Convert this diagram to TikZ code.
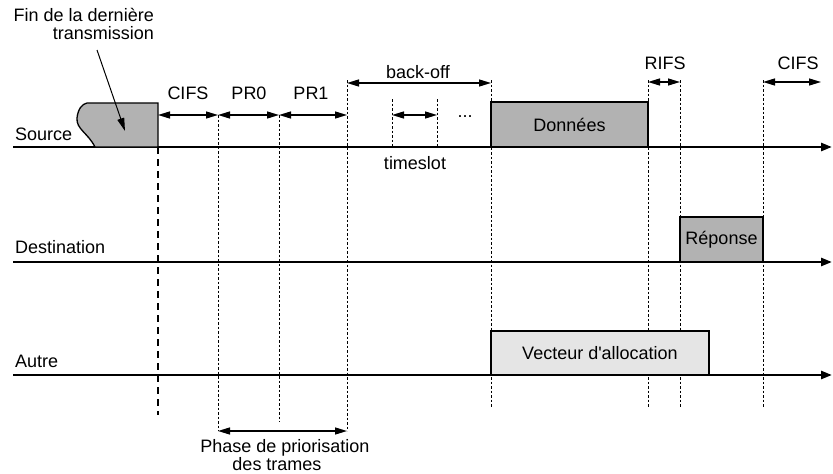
\documentclass[tikz,border=0pt]{standalone}
\usepackage{fontspec}
\setmainfont{Liberation Sans}
\usetikzlibrary{arrows.meta}
\begin{document}
\begin{tikzpicture}[x=1pt,y=-1pt,
  font=\fontsize{18}{21}\selectfont,
  lbl/.style={inner sep=0pt},
  axis/.style={line width=2.6pt,-{Triangle[length=11pt,width=8pt]}},
  dim/.style={line width=1.3pt,{Triangle[length=12pt,width=7pt]}-{Triangle[length=12pt,width=7pt]}},
  note/.style={line width=1pt,-{Triangle[length=13pt,width=7pt]}},
  guide/.style={line width=1pt,dash pattern=on 2.5pt off 2pt},
  limit/.style={line width=2.8pt,dash pattern=on 7pt off 5pt},
  frame/.style={draw,line width=1.3pt,outer sep=0pt,inner sep=0pt,anchor=south west},
  dark/.style={frame,fill=gray!60},
  light/.style={frame,fill=gray!20}]
\useasboundingbox (0,0) rectangle (833,474);

% instants on the time axis
\foreach \n/\x in {a0/13,t0/158,t1/218,t2/279,t3/347,s1/392,s2/437,t4/491,t5/648,t6/680,tv/709,t7/763,t8/821,a1/832}
  \coordinate (\n) at (\x,0);
% heights
\foreach \n/\y in {ySrc/147,yDst/262,yAut/375,yTop/80,yBO/83,yRI/82,ySlot/99,yPR/115,yEnd/407,yDash/415,yMid/422,yPh/431}
  \coordinate (\n) at (0,\y);

% guide lines
\draw[guide] (t1|-yPR) -- (t1|-yPh);
\draw[guide] (t2|-yPR) -- (t2|-yMid);
\draw[guide] (t3|-yTop) -- (t3|-yPh);
\draw[guide] (s1|-ySlot) -- (s1|-ySrc);
\draw[guide] (s2|-ySlot) -- (s2|-ySrc);
\foreach \t in {t4,t5,t6,t7}
  \draw[guide] (\t|-yTop) -- (\t|-yEnd);
\draw[limit] (t0|-ySrc) -- (t0|-yDash);

% station time lines
\draw[axis] (a0|-ySrc) -- (a1|-ySrc);
\draw[axis] (a0|-yDst) -- (a1|-yDst);
\draw[axis] (a0|-yAut) -- (a1|-yAut);
\node[lbl,anchor=base west] (src) at (15,140) {Source};
\node[lbl,anchor=base west] (dst) at (15,253) {Destination};
\node[lbl,anchor=base west] (aut) at (15,367) {Autre};

% end of the previous transmission
\filldraw[fill=gray!60,line width=1.3pt]
  (95,147) .. controls (88,133) and (76,129) .. (77,118)
  .. controls (78,109) and (82,104) .. (87,103) -- (158,103) -- (158,147) -- cycle;
\coordinate (lastTx) at (125,131);
\coordinate (finTip) at (97,50);
\node[lbl,anchor=base east] (fin1) at (154,21) {Fin de la dernière};
\node[lbl,anchor=base east] (fin2) at (154,39) {transmission};
\draw[note] (finTip) -- (lastTx);

% frames
\node[dark,minimum width=157pt,minimum height=45pt] (data) at (t4|-ySrc) {Données};
\node[dark,minimum width=83pt,minimum height=45pt] (resp) at (t6|-yDst) {Réponse};
\node[light,minimum width=218pt,minimum height=44pt] (nav) at (t4|-yAut) {Vecteur d\textquotesingle allocation};

% intervals
\draw[dim] (t0|-yPR) -- (t1|-yPR);
\draw[dim] (t1|-yPR) -- (t2|-yPR);
\draw[dim] (t2|-yPR) -- (t3|-yPR);
\draw[dim] (s1|-yPR) -- (s2|-yPR);
\draw[dim] (t3|-yBO) -- (t4|-yBO);
\draw[dim] (t5|-yRI) -- (t6|-yRI);
\draw[dim] (t7|-yRI) -- (t8|-yRI);
\draw[dim] (t1|-yPh) -- (t3|-yPh);

\node[lbl,anchor=base] (cifs) at (188,99) {CIFS};
\node[lbl,anchor=base] (pr0) at (249,99) {PR0};
\node[lbl,anchor=base] (pr1) at (311,99) {PR1};
\node[lbl,anchor=base] (bo) at (418,78) {back-off};
\node[lbl,anchor=base] (slot) at (415,169) {timeslot};
\node[lbl,anchor=base] (dots) at (465,117) {...};
\node[lbl,anchor=base] (rifs) at (665,69) {RIFS};
\node[lbl,anchor=base] (cifs2) at (798,69) {CIFS};
\node[lbl,anchor=base] (ph1) at (285,452) {Phase de priorisation};
\node[lbl,anchor=base] (ph2) at (277,470) {des trames};
\end{tikzpicture}
\end{document}
